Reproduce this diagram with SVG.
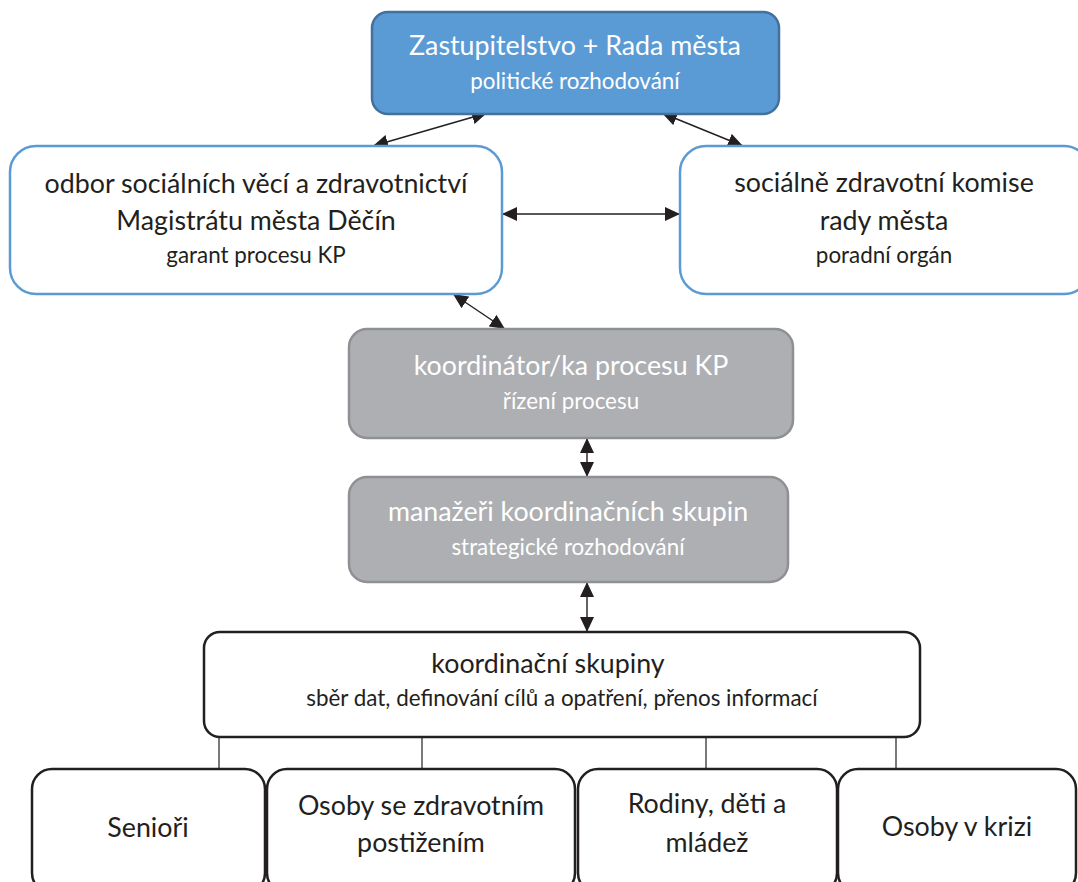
<svg xmlns="http://www.w3.org/2000/svg" width="1078" height="882" viewBox="0 0 1078 882">
<defs>
<marker id="ah" viewBox="0 0 15 14" refX="15" refY="7" markerWidth="15" markerHeight="14" markerUnits="userSpaceOnUse" orient="auto-start-reverse">
<path d="M0,0 L15,7 L0,14 Z" fill="#231f20"/>
</marker>
<style>
text{font-family:Lato,"Open Sans","Liberation Sans",sans-serif;text-anchor:middle}
.t{font-size:26.8px}
.s{font-size:22.4px}
.w{fill:#ffffff}
.d{fill:#231f20}
.blue{fill:#5b9bd5;stroke:#41719c;stroke-width:2.5}
.wb{fill:#ffffff;stroke:#5b9bd5;stroke-width:2.5}
.gray{fill:#adafb2;stroke:#8e9093;stroke-width:2.5}
.blk{fill:#ffffff;stroke:#231f20;stroke-width:2.5}
.arr{stroke:#231f20;stroke-width:1.4;fill:none;marker-start:url(#ah);marker-end:url(#ah)}
.ln{stroke:#231f20;stroke-width:1.2;fill:none}
</style>
</defs>
<rect width="1078" height="882" fill="#ffffff"/>
<g id="connectors">
<line class="arr" x1="373" y1="146" x2="487" y2="113"/>
<line class="arr" x1="662" y1="113" x2="743" y2="146"/>
<line class="arr" x1="502" y1="214" x2="680" y2="214"/>
<line class="arr" x1="453" y1="294" x2="505" y2="329"/>
<line class="arr" x1="587" y1="438" x2="587" y2="477"/>
<line class="arr" x1="587" y1="582" x2="587" y2="632"/>
<line class="ln" x1="219" y1="737" x2="219" y2="769"/>
<line class="ln" x1="422" y1="737" x2="422" y2="769"/>
<line class="ln" x1="706" y1="737" x2="706" y2="769"/>
<line class="ln" x1="896" y1="737" x2="896" y2="769"/>
</g>
<g id="zastupitelstvo">
<rect class="blue" x="372" y="12" width="407" height="102" rx="16"/>
<text class="t w" x="575" y="55">Zastupitelstvo + Rada města</text>
<text class="s w" x="575" y="89">politické rozhodování</text>
</g>
<g id="odbor">
<rect class="wb" x="10" y="146" width="492" height="148" rx="26"/>
<text class="t d" x="256" y="193">odbor sociálních věcí a zdravotnictví</text>
<text class="t d" x="256" y="230">Magistrátu města Děčín</text>
<text class="s d" x="256" y="263">garant procesu KP</text>
</g>
<g id="komise">
<rect class="wb" x="680" y="146" width="410" height="148" rx="26"/>
<text class="t d" x="884" y="192">sociálně zdravotní komise</text>
<text class="t d" x="884" y="230">rady města</text>
<text class="s d" x="884" y="263">poradní orgán</text>
</g>
<g id="koordinator">
<rect class="gray" x="349" y="329" width="444" height="109" rx="18"/>
<text class="t w" x="571" y="375">koordinátor/ka procesu KP</text>
<text class="s w" x="571" y="409">řízení procesu</text>
</g>
<g id="manazeri">
<rect class="gray" x="349" y="477" width="439" height="105" rx="18"/>
<text class="t w" x="568" y="521">manažeři koordinačních skupin</text>
<text class="s w" x="568" y="555">strategické rozhodování</text>
</g>
<g id="skupiny">
<rect class="blk" x="204" y="632" width="716" height="105" rx="16"/>
<text class="t d" x="548" y="673">koordinační skupiny</text>
<text class="s d" x="562" y="706">sběr dat, definování cílů a opatření, přenos informací</text>
</g>
<g id="seniori">
<rect class="blk" x="32" y="769" width="233" height="124" rx="20"/>
<text class="t d" x="148" y="837">Senioři</text>
</g>
<g id="zdravotni">
<rect class="blk" x="267" y="769" width="308" height="124" rx="20"/>
<text class="t d" x="421" y="815">Osoby se zdravotním</text>
<text class="t d" x="421" y="852">postižením</text>
</g>
<g id="rodiny">
<rect class="blk" x="578" y="769" width="259" height="124" rx="20"/>
<text class="t d" x="707" y="813">Rodiny, děti a</text>
<text class="t d" x="707" y="852">mládež</text>
</g>
<g id="krize">
<rect class="blk" x="838" y="769" width="238" height="124" rx="20"/>
<text class="t d" x="957" y="836">Osoby v krizi</text>
</g>
</svg>
